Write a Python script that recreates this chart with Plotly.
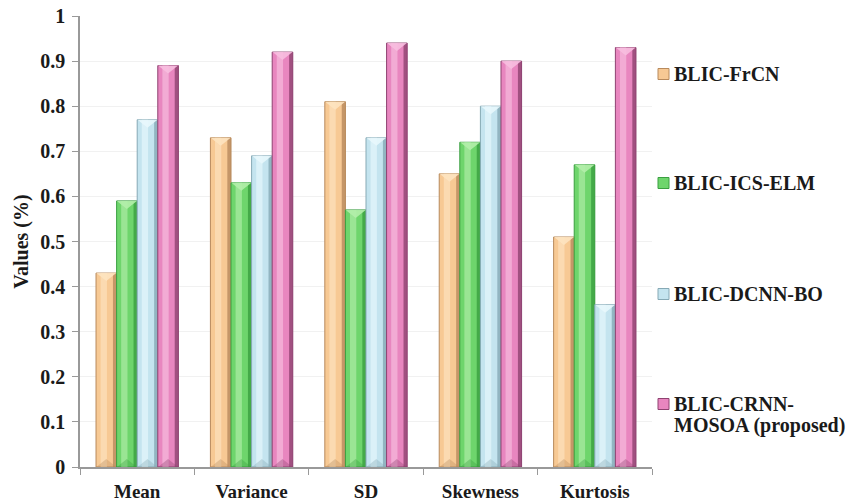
import plotly.graph_objects as go

categories = ["Mean", "Variance", "SD", "Skewness", "Kurtosis"]
series_names = ["BLIC-FrCN", "BLIC-ICS-ELM", "BLIC-DCNN-BO", "BLIC-CRNN-<br>MOSOA (proposed)"]
frcn = [0.43, 0.73, 0.81, 0.65, 0.51]
ics_elm = [0.59, 0.63, 0.57, 0.72, 0.67]
dcnn_bo = [0.77, 0.69, 0.73, 0.80, 0.36]
crnn_mosoa = [0.89, 0.92, 0.94, 0.90, 0.93]
y_ticks = [0, 0.1, 0.2, 0.3, 0.4, 0.5, 0.6, 0.7, 0.8, 0.9, 1]
y_tick_labels = ["0", "0.1", "0.2", "0.3", "0.4", "0.5", "0.6", "0.7", "0.8", "0.9", "1"]

series_values = [frcn, ics_elm, dcnn_bo, crnn_mosoa]
# (edge colour, body colour, highlight colour) for the bevelled look
palettes = [
    ("#b88a5c", "#f7c994", "#fde3c0"),
    ("#3a9f40", "#6ed56c", "#b2eeaa"),
    ("#86a9b5", "#c4e4ef", "#e8f7fc"),
    ("#8e4270", "#e886bf", "#f7bedf"),
]

W, H = 850, 504
ML, MR, MT, MB = 80, 198, 16, 37
plot_w = W - ML - MR
plot_h = H - MT - MB

bar_w = 0.18
start = -2 * bar_w
font_family = "Liberation Serif, Times New Roman, serif"
fig = go.Figure()
shapes = []

for i, (vals, pal) in enumerate(zip(series_values, palettes)):
    edge, body, light = pal
    off = start + i * bar_w
    fig.add_trace(go.Bar(
        x=categories, y=vals, name=series_names[i].replace("<br>", " "),
        offset=off, width=bar_w,
        marker=dict(color=body, line=dict(color=edge, width=1)),
        showlegend=False,
    ))
    # shaded right edge and light stripe give the bars a rounded look
    fig.add_trace(go.Bar(
        x=categories, y=vals, offset=off + bar_w - 0.032, width=0.032,
        marker=dict(color=edge, line=dict(width=0), opacity=0.8),
        showlegend=False, hoverinfo="skip",
    ))
    fig.add_trace(go.Bar(
        x=categories, y=vals, offset=off + 0.04, width=0.055,
        marker=dict(color=light, line=dict(width=0), opacity=0.65),
        showlegend=False, hoverinfo="skip",
    ))
    # bevelled caps at the top and foot of each bar
    for k, v in enumerate(vals):
        cx = k + off + bar_w / 2
        shapes.append(dict(
            type="path", xref="x", yref="y", xsizemode="pixel", ysizemode="pixel",
            xanchor=cx, yanchor=v,
            path="M -10,0 L 10,0 L 0,-8 Z",
            fillcolor=light, line=dict(width=0), opacity=0.9, layer="above",
        ))
        shapes.append(dict(
            type="path", xref="x", yref="y", xsizemode="pixel", ysizemode="pixel",
            xanchor=cx, yanchor=0,
            path="M -10,0 L 10,0 L 0,8 Z",
            fillcolor=edge, line=dict(width=0), opacity=0.35, layer="above",
        ))

# legend drawn as swatches and labels beside the plot
legend_rows = [74, 183, 294, 404]
line_gap = 21
annotations = []
for i, (name, pal) in enumerate(zip(series_names, palettes)):
    edge, body, light = pal
    py = legend_rows[i]
    yc = (H - MB - py) / plot_h
    x0 = (658 - ML) / plot_w
    x1 = (669 - ML) / plot_w
    half = 5.5 / plot_h
    shapes.append(dict(type="rect", xref="paper", yref="paper",
                       x0=x0, x1=x1, y0=yc - half, y1=yc + half,
                       fillcolor=body, line=dict(color=edge, width=1)))
    for j, line in enumerate(name.split("<br>")):
        annotations.append(dict(
            text=line, xref="paper", yref="paper",
            x=(672 - ML) / plot_w, y=yc - j * line_gap / plot_h,
            xanchor="left", yanchor="middle", showarrow=False, align="left",
            font=dict(family=font_family, size=20, color="#1a1a1a", weight="bold"),
        ))

fig.update_layout(
    width=W, height=H,
    barmode="overlay",
    plot_bgcolor="white", paper_bgcolor="white",
    margin=dict(l=ML, r=MR, t=MT, b=MB, autoexpand=False),
    font=dict(family=font_family, color="#1a1a1a"),
    showlegend=False,
    shapes=shapes,
    annotations=annotations,
    xaxis=dict(
        type="category", tickson="boundaries", ticks="outside", ticklen=6,
        tickcolor="#999999", showline=True, linecolor="#999999", linewidth=1.5,
        tickfont=dict(family=font_family, size=19, color="#1a1a1a", weight="bold"),
        ticklabelstandoff=6,
        showgrid=False, range=[-0.5, 4.5],
    ),
    yaxis=dict(
        range=[0, 1], tickvals=y_ticks, ticktext=y_tick_labels,
        ticks="outside", ticklen=6, tickcolor="#999999",
        showline=True, linecolor="#999999", linewidth=1.5,
        showgrid=True, gridcolor="#f1f1f1", gridwidth=1,
        tickfont=dict(family=font_family, size=20, color="#1a1a1a", weight="bold"),
        ticklabelstandoff=3,
        title=dict(text="Values (%)", standoff=6,
                   font=dict(family=font_family, size=20, color="#1a1a1a", weight="bold")),
        zeroline=False,
    ),
)

fig.write_html("out.html")
